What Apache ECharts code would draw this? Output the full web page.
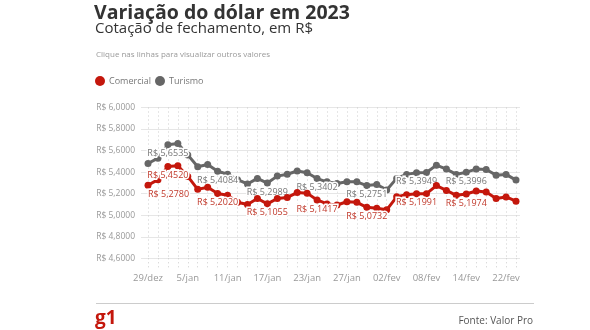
<!DOCTYPE html>
<html>
<head>
<meta charset="utf-8">
<script src="https://cdn.jsdelivr.net/npm/echarts@6/dist/echarts.min.js"></script>
<style>
html,body{margin:0;padding:0;background:#fff;}
#chart{width:590px;height:330px;}
</style>
</head>
<body>
<div id="chart"></div>
<script>
const categories = ["29/dez","2/jan","3/jan","4/jan","5/jan","6/jan","9/jan","10/jan","11/jan","12/jan","13/jan","16/jan","17/jan","18/jan","19/jan","20/jan","23/jan","24/jan","25/jan","26/jan","27/jan","30/jan","31/jan","01/fev","02/fev","03/fev","06/fev","07/fev","08/fev","09/fev","10/fev","13/fev","14/fev","15/fev","16/fev","17/fev","22/fev","23/fev"];
const comercial = [5.2780,5.33,5.4520,5.46,5.36,5.24,5.26,5.2020,5.185,5.12,5.10,5.155,5.1055,5.155,5.165,5.21,5.205,5.1417,5.105,5.095,5.125,5.12,5.0732,5.064,5.05,5.171,5.19,5.1991,5.20,5.275,5.23,5.185,5.1974,5.225,5.215,5.155,5.17,5.13];
const turismo = [5.48,5.53,5.6535,5.665,5.56,5.45,5.47,5.4084,5.38,5.33,5.29,5.342,5.2989,5.363,5.38,5.41,5.394,5.3402,5.31,5.295,5.31,5.31,5.2751,5.285,5.235,5.342,5.379,5.3949,5.397,5.465,5.428,5.379,5.3996,5.428,5.425,5.372,5.379,5.326];
const labeledIdx = [2,7,12,17,22,27,32];
const yMin = 4.6, yMax = 6.0, yStep = 0.2;

const FONT = "'Open Sans', sans-serif";
const RED = "#c4170c";
const GRAY = "#666666";
const fmt = v => "R$ " + Number(v).toFixed(4).replace(".", ",");

function buildData(values, extraLeft) {
  return values.map((v, i) => {
    if (labeledIdx.includes(i)) return { value: v, label: { show: true } };
    if (extraLeft && i === 0) return { value: v, label: { show: true, align: "left" } };
    return v;
  });
}

const chart = echarts.init(document.getElementById("chart"), null, { renderer: "canvas" });
chart.setOption({
  backgroundColor: "#fff",
  animation: false,
  textStyle: { fontFamily: FONT },
  title: [
    { text: "Variação do dólar em 2023", left: 94, top: 3, padding: 0,
      textStyle: { fontFamily: FONT, fontSize: 19.5, fontWeight: "bold", color: "#333", lineHeight: 20 } },
    { text: "Cotação de fechamento, em R$", left: 95, top: 21, padding: 0,
      textStyle: { fontFamily: FONT, fontSize: 15, fontWeight: "normal", color: "#333", lineHeight: 15 } },
    { text: "Clique nas linhas para visualizar outros valores", left: 96, top: 51, padding: 0,
      textStyle: { fontFamily: FONT, fontSize: 8, fontWeight: "normal", color: "#999", lineHeight: 8 } },
    { text: "g1", left: 95, top: 309, padding: 0,
      textStyle: { fontFamily: FONT, fontSize: 19, fontWeight: "bold", color: RED, lineHeight: 19 } },
    { text: "Fonte: Valor Pro", right: 57, top: 316, padding: 0,
      textStyle: { fontFamily: FONT, fontSize: 10, fontWeight: "normal", color: "#555", lineHeight: 10 } }
  ],
  legend: {
    left: 95, top: 76, padding: 0, itemGap: 4, itemWidth: 10, itemHeight: 10,
    icon: "circle",
    textStyle: { fontFamily: FONT, fontSize: 9, color: "#777", padding: [0, 0, 0, -1] },
    data: ["Comercial", "Turismo"]
  },
  graphic: [
    { type: "line", shape: { x1: 96, y1: 303.5, x2: 534, y2: 303.5 }, style: { stroke: "#ccc", lineWidth: 1 } }
  ],
  grid: [
    { left: 148, right: 74, top: 107.5, bottom: 71.7 },
    { left: 141, right: 70, top: 107.5, bottom: 71.7 }
  ],
  xAxis: [
    { type: "category", gridIndex: 0, data: categories, boundaryGap: false,
      axisLine: { show: false },
      axisTick: { show: true, length: 10, interval: 0, lineStyle: { color: "#ccc", type: [1, 3] } },
      axisLabel: { interval: 3, margin: 15, fontFamily: FONT, fontSize: 9.5, color: "#999" },
      splitLine: { show: true, interval: 0, lineStyle: { color: "#ccc", type: [1, 3] } } },
    { type: "value", gridIndex: 1, show: false, min: 0, max: 1 }
  ],
  yAxis: [
    { type: "value", gridIndex: 0, min: yMin, max: yMax, interval: yStep,
      axisLine: { show: false }, axisTick: { show: false }, axisLabel: { show: false }, splitLine: { show: false } },
    { type: "value", gridIndex: 1, min: yMin, max: yMax, interval: yStep,
      axisLine: { show: false }, axisTick: { show: false },
      axisLabel: { margin: 6, fontFamily: FONT, fontSize: 8.5, color: "#999", formatter: fmt },
      splitLine: { show: true, lineStyle: { color: "#e6e6e6", width: 1 } } }
  ],
  series: [
    { name: "Comercial", type: "line", xAxisIndex: 0, yAxisIndex: 0,
      data: buildData(comercial, true),
      color: RED, symbol: "circle", symbolSize: 7, showSymbol: true, showAllSymbol: true,
      lineStyle: { width: 3, color: RED }, itemStyle: { color: RED },
      label: { show: false, position: "bottom", distance: 1, formatter: p => fmt(p.value),
        fontFamily: FONT, fontSize: 9, color: "#c0392b", textBorderColor: "#fff", textBorderWidth: 3 },
      z: 3 },
    { name: "Turismo", type: "line", xAxisIndex: 0, yAxisIndex: 0,
      data: buildData(turismo, false),
      color: GRAY, symbol: "circle", symbolSize: 7, showSymbol: true, showAllSymbol: true,
      lineStyle: { width: 3, color: GRAY }, itemStyle: { color: GRAY },
      label: { show: false, position: "bottom", distance: 1, formatter: p => fmt(p.value),
        fontFamily: FONT, fontSize: 9, color: "#777", textBorderColor: "#fff", textBorderWidth: 3 },
      z: 2 }
  ]
});
</script>
</body>
</html>
